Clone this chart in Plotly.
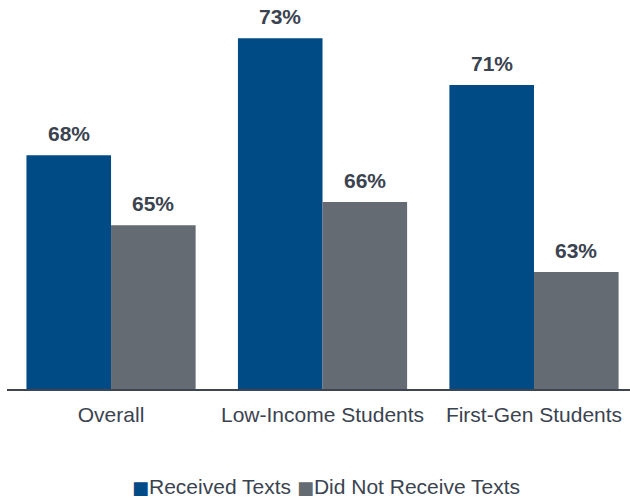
import plotly.graph_objects as go

categories = ["Overall", "Low-Income Students", "First-Gen Students"]
received = [68, 73, 71]
not_received = [65, 66, 63]
series_names = ["Received Texts", "Did Not Receive Texts"]

BLUE = "#004a86"
GRAY = "#646b73"
TEXT = "#3b4350"
FONT = "Liberation Sans, Arial, sans-serif"

fig = go.Figure()
fig.add_trace(go.Bar(x=categories, y=received, name=series_names[0],
                     marker=dict(color=BLUE, line=dict(width=0)), offsetgroup="a"))
fig.add_trace(go.Bar(x=categories, y=not_received, name=series_names[1],
                     marker=dict(color=GRAY, line=dict(width=0)), offsetgroup="b"))

annotations = []
for i, c in enumerate(categories):
    for vals, off in ((received, -0.2), (not_received, 0.2)):
        annotations.append(dict(x=i + off, y=vals[i], xref="x", yref="y",
                                text=f"<b>{vals[i]}%</b>", showarrow=False,
                                yanchor="bottom", yshift=8,
                                font=dict(size=21, color=TEXT, family=FONT)))

# legend drawn as text with coloured square glyphs
sq = "<span style='font-family:DejaVu Sans;font-size:18px;color:{}'>■</span>"
legend_text = (sq.format(BLUE) + series_names[0] + " " +
               sq.format(GRAY) + series_names[1])
annotations.append(dict(x=0.512, y=-0.25, xref="paper", yref="paper",
                        text=legend_text, showarrow=False,
                        xanchor="center", yanchor="middle",
                        font=dict(size=21, color=TEXT, family=FONT)))

fig.update_layout(
    width=630, height=500,
    margin=dict(l=7, r=0, t=0, b=111),
    paper_bgcolor="white", plot_bgcolor="white",
    barmode="group", bargap=0.2, bargroupgap=0,
    font=dict(family=FONT, size=21, color=TEXT),
    showlegend=False,
    annotations=annotations,
)
fig.update_xaxes(range=[-0.492, 2.454], showline=True, linecolor="#3d4550", linewidth=2,
                 ticks="", showgrid=False, ticklabelstandoff=6,
                 tickfont=dict(size=21, color=TEXT, family=FONT))
fig.update_yaxes(range=[58, 74.64], visible=False, showgrid=False, zeroline=False)

fig.write_html("out.html")
